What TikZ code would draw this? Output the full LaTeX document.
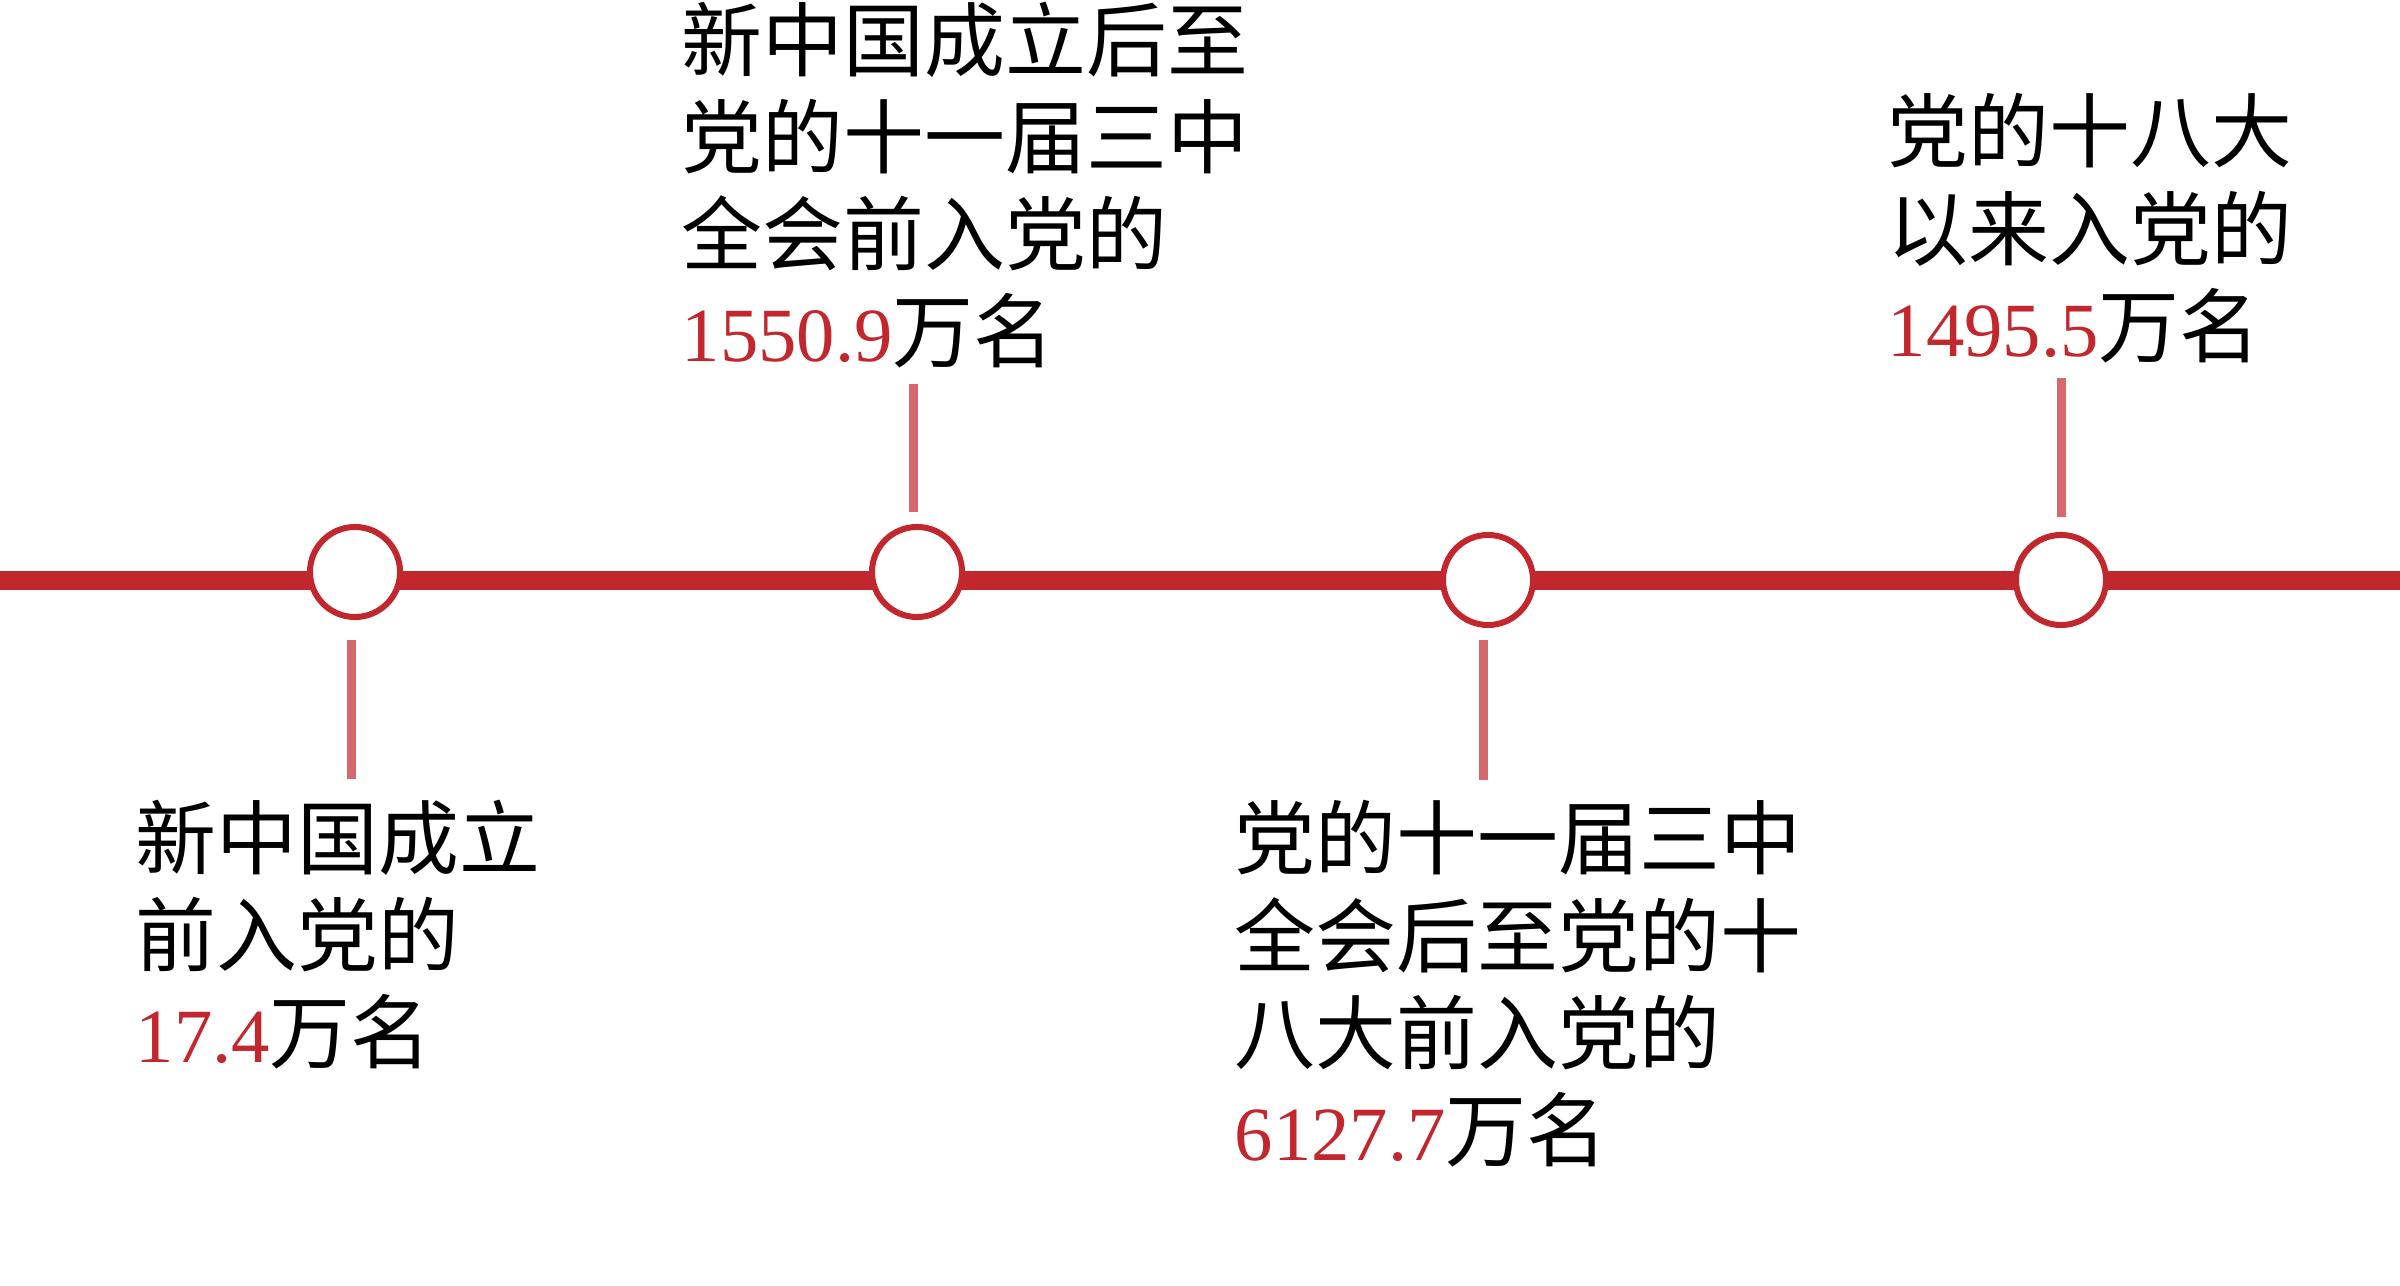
\documentclass[tikz,border=0pt]{standalone}
\usepackage{fontspec}
\usepackage{tikz}
\setmainfont{Liberation Serif}
\newfontfamily\cjk{Noto Sans CJK SC}
\definecolor{partyred}{HTML}{C1272D}
\newcommand{\amount}[1]{{\rmfamily\fontsize{21.8pt}{27.6pt}\selectfont\color{partyred}#1}}

\begin{document}
\begin{tikzpicture}[x=0.01cm, y=-0.01cm,
    dot/.style={circle, draw=partyred, fill=white, line width=0.06cm, minimum size=0.9cm, inner sep=0},
    stem/.style={partyred!70, line width=0.09cm},
    blurb/.style={anchor=north west, align=left, inner sep=0, font=\cjk\fontsize{23pt}{27.6pt}\selectfont}]
    \useasboundingbox (0,0) rectangle (2400,1286);
    \coordinate (west) at (0,581);
    \coordinate (east) at (2400,581);
    \draw[partyred, line width=0.19cm] (west) -- (east);
    \node[dot] (pre) at (355,572) {};
    \node[dot] (mid) at (917,572) {};
    \node[dot] (open) at (1488,580) {};
    \node[dot] (now) at (2061,580) {};
    \node[blurb] (pretext) at (135,799) {新中国成立\\前入党的\\\amount{17.4}万名};
    \node[blurb] (midtext) at (681,1) {新中国成立后至\\党的十一届三中\\全会前入党的\\\amount{1550.9}万名};
    \node[blurb] (opentext) at (1234,800) {党的十一届三中\\全会后至党的十\\八大前入党的\\\amount{6127.7}万名};
    \node[blurb] (nowtext) at (1887,93) {党的十八大\\以来入党的\\\amount{1495.5}万名};
    \draw[stem, shorten <=0.2cm, shorten >=0.2cm] ([xshift=-0.04cm]pre.south) -- ([xshift=-0.04cm]pre.south |- pretext.north);
    \draw[stem, shorten <=0.12cm, shorten >=0.15cm] ([xshift=-0.04cm]mid.north) -- ([xshift=-0.04cm]mid.north |- midtext.south);
    \draw[stem, shorten <=0.12cm, shorten >=0.2cm] ([xshift=-0.05cm]open.south) -- ([xshift=-0.05cm]open.south |- opentext.north);
    \draw[stem, shorten <=0.15cm, shorten >=0.15cm] (now.north) -- (now.north |- nowtext.south);
\end{tikzpicture}
\end{document}
